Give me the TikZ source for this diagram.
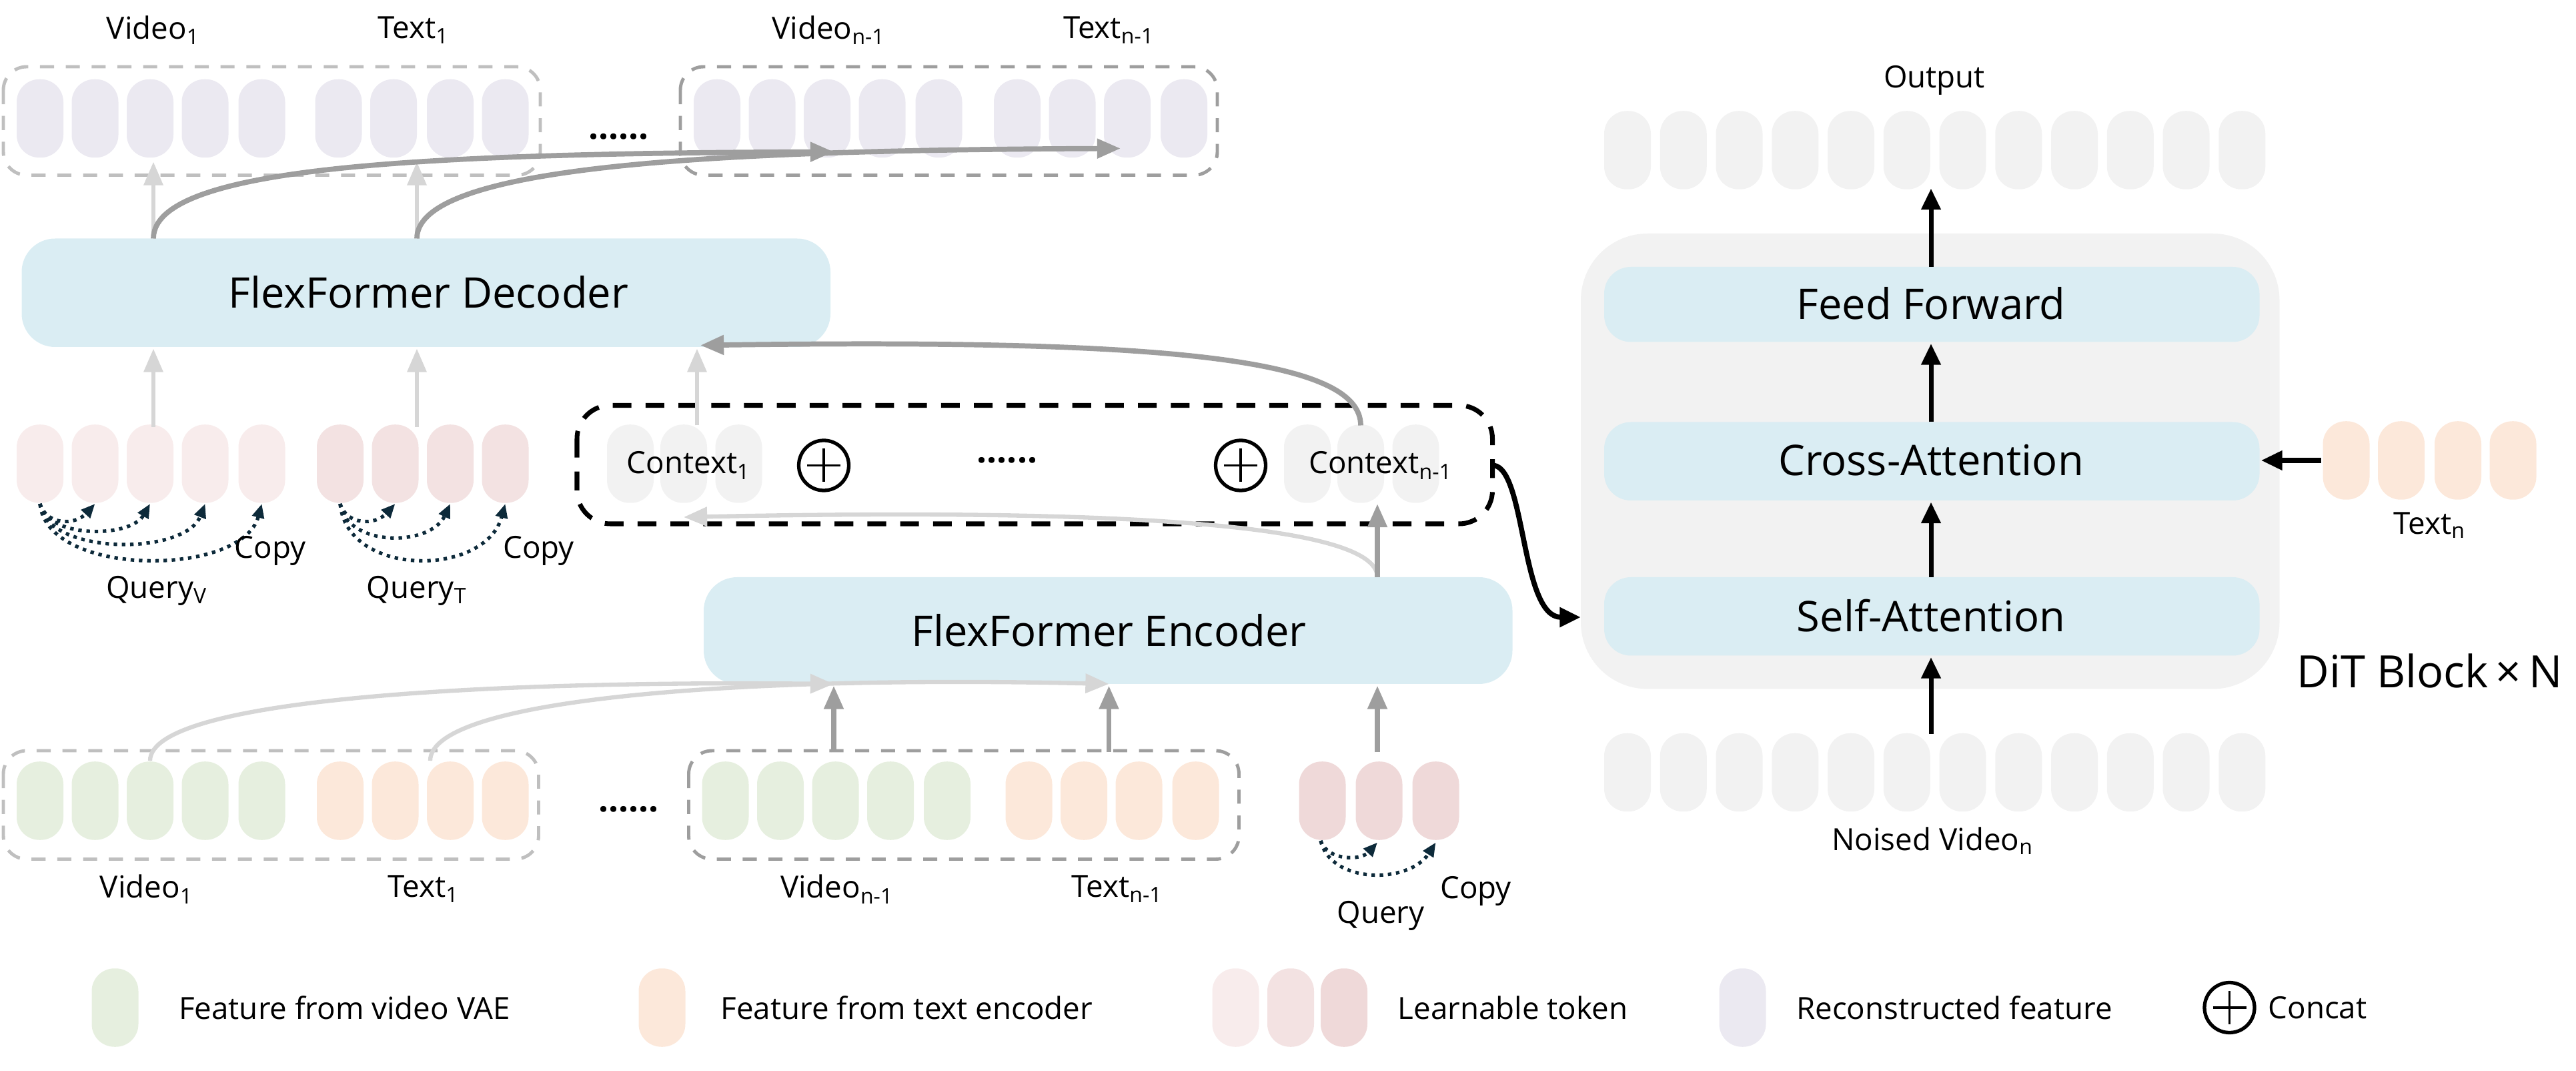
\documentclass[tikz,border=0pt]{standalone}
\usepackage{fontspec}
\setmainfont{Open Sans}
\usetikzlibrary{arrows.meta}
\definecolor{recon}{HTML}{EBE9F1}
\definecolor{vgreen}{HTML}{E6EFDF}
\definecolor{torange}{HTML}{FCE8DA}
\definecolor{lq1}{HTML}{F8ECEC}
\definecolor{lq2}{HTML}{F3E2E2}
\definecolor{lq3}{HTML}{EFD9D9}
\definecolor{pgray}{HTML}{F2F2F2}
\definecolor{bblue}{HTML}{DAEDF3}
\definecolor{navy}{HTML}{0D2A3A}
\newcommand{\sbs}[1]{\textsubscript{#1}}
\tikzset{
 x=0.025cm,y=-0.025cm,
 pics/pill/.style={code={\fill[#1,rounded corners=0.34cm] (-14,-23.5) rectangle (14,23.5);}},
 pics/oplus/.style={code={\draw[line width=1.5pt] (0,0) circle (15); \draw[line width=1pt] (-10,0)--(10,0) (0,-10)--(0,10);}},
 lbl/.style={font=\fontsize{13}{15}\selectfont,inner sep=0pt},
 ttl/.style={font=\fontsize{18}{21}\selectfont,inner sep=0pt},
 lg/.style={-{Triangle[length=10pt,width=8pt]},line width=1.8pt,draw=black!16},
 dg/.style={-{Triangle[length=10pt,width=8pt]},line width=2.2pt,draw=black!38},
 bk/.style={-{Triangle[length=9pt,width=8pt]},line width=2pt,draw=black},
 cp/.style={-{Triangle[length=6pt,width=5pt]},dotted,line width=1.5pt,draw=navy},
 grpbox/.style={dashed,line width=1.4pt,rounded corners=0.35cm,dash pattern=on 6pt off 5pt},
 blk/.style={fill=bblue,rounded corners=0.5cm},
 dots/.style={font=\fontsize{15}{15}\selectfont\bfseries,inner sep=0pt}
}
\begin{document}
\begin{tikzpicture}
\useasboundingbox (0,0) rectangle (1544.8,642);
% ---------- top reconstructed row ----------
\draw[grpbox,draw=black!25] (2,40) rectangle (324,105);
\draw[grpbox,draw=black!38] (408,40) rectangle (730,105);
\foreach \x in {24,57,90,123,157,203,236,270,303,430,463,496,529,563,610,643,676,710}
  \pic at (\x,71) {pill=recon};
\node[lbl] (tv1) at (92,18) {Video\sbs{1}};
\node[lbl] (tt1) at (248,18) {Text\sbs{1}};
\node[lbl] (tvn) at (497,18) {Video\sbs{n-1}};
\node[lbl] (ttn) at (665,18) {Text\sbs{n-1}};
\node[dots] (tdots) at (371,82) {......};
% ---------- decoder ----------
\fill[blk] (13,143) rectangle (498,208);
\node[ttl] (dec) at (257,175) {FlexFormer Decoder};
\coordinate (d1) at (92,143); \coordinate (d2) at (250,143);
\draw[lg] (d1) -- (92,97);
\draw[lg] (d2) -- (250,97);
\draw[dg] (d1) .. controls (92,100) and (250,92) .. (500,91);
\draw[dg] (d2) .. controls (250,100) and (420,90) .. (672,89);
% ---------- learnable queries ----------
\foreach \x in {24,57,90,123,157} \pic at (\x,278) {pill=lq1};
\foreach \x in {204,237,270,303} \pic at (\x,278) {pill=lq2};
\draw[lg] (92,256) -- (92,209);
\draw[lg] (250,256) -- (250,209);
\foreach \x/\d in {57/10,90/16,123/24,157/34}
  \draw[cp] (24,302) .. controls (28,302+1.3*\d) and (\x-12,302+1.3*\d) .. (\x,302);
\foreach \x/\d in {237/10,270/20,303/34}
  \draw[cp] (204,302) .. controls (208,302+1.3*\d) and (\x-12,302+1.3*\d) .. (\x,302);
\node[lbl] (cpv) at (162,330) {Copy};
\node[lbl] (cpt) at (323,330) {Copy};
\node[lbl] (qv) at (94,354) {Query\sbs{V}};
\node[lbl] (qt) at (250,354) {Query\sbs{T}};
% ---------- context box ----------
\foreach \x in {378,410,443,784,816,849} \pic at (\x,278) {pill=pgray};
\draw[grpbox,draw=black,line width=2pt,dash pattern=on 8pt off 6pt,rounded corners=0.5cm] (346,243) rectangle (895,314);
\node[lbl] (c1) at (413,279) {Context\sbs{1}};
\node[lbl] (cn) at (828,279) {Context\sbs{n-1}};
\pic at (494,279) {oplus};
\pic at (744,279) {oplus};
\node[dots] (cdots) at (604,276) {......};
\draw[lg] (418,255) -- (418,209);
\draw[dg] (816,255) .. controls (816,215) and (700,203) .. (420,207);
% ---------- encoder ----------
\fill[blk] (422,346) rectangle (907,410);
\node[ttl] (enc) at (665,378) {FlexFormer Encoder};
\draw[lg] (826,346) .. controls (826,312) and (650,305) .. (410,310);
\draw[dg] (826,346) -- (826,302);
% ---------- bottom input row ----------
\draw[grpbox,draw=black!25] (2,450) rectangle (323,515);
\draw[grpbox,draw=black!38] (413,450) rectangle (743,515);
\foreach \x in {24,57,90,123,157,435,468,501,534,568} \pic at (\x,480) {pill=vgreen};
\foreach \x in {204,237,270,303,617,650,683,717} \pic at (\x,480) {pill=torange};
\foreach \x in {793,827,861} \pic at (\x,480) {pill=lq3};
\node[dots] (dots2) at (377,485) {......};
\draw[lg] (90,456) .. controls (90,418) and (300,408) .. (500,410);
\draw[lg] (258,456) .. controls (258,418) and (450,405) .. (665,410);
\draw[dg] (500,451) -- (500,411);
\draw[dg] (665,451) -- (665,411);
\draw[dg] (826,451) -- (826,411);
\draw[cp] (792,504) .. controls (796,516) and (816,516) .. (826,505);
\draw[cp] (792,504) .. controls (798,530) and (845,530) .. (861,505);
\node[lbl] (bv1) at (88,533) {Video\sbs{1}};
\node[lbl] (bt1) at (254,533) {Text\sbs{1}};
\node[lbl] (bvn) at (502,533) {Video\sbs{n-1}};
\node[lbl] (btn) at (670,533) {Text\sbs{n-1}};
\node[lbl] (bq) at (828,549) {Query};
\node[lbl] (bc) at (885,534) {Copy};
% ---------- DiT block ----------
\fill[pgray,rounded corners=1cm] (948,140) rectangle (1367,413);
\fill[blk,rounded corners=0.4cm] (962,160) rectangle (1355,205);
\fill[blk,rounded corners=0.4cm] (962,253) rectangle (1355,300);
\fill[blk,rounded corners=0.4cm] (962,346) rectangle (1355,393);
\node[ttl] (ff) at (1158,182) {Feed Forward};
\node[ttl] (ca) at (1158,276) {Cross-Attention};
\node[ttl] (sa) at (1158,369) {Self-Attention};
\foreach \k in {0,...,11} {
  \pic at (976+33.5*\k,90) {pill=pgray};
  \pic at (976+33.5*\k,463) {pill=pgray};
}
\node[lbl] (out) at (1160,48) {Output};
\node[lbl] (nv) at (1159,504) {Noised Video\sbs{n}};
\draw[bk] (1158,440) -- (1158,394);
\draw[bk] (1158,346) -- (1158,301);
\draw[bk] (1158,253) -- (1158,206);
\draw[bk] (1158,160) -- (1158,113);
\foreach \x in {1407,1440,1474,1507} \pic at (\x,276) {pill=torange};
\node[lbl] (tn) at (1457,315) {Text\sbs{n}};
\draw[bk] (1392,276) -- (1356,276);
\node[font=\fontsize{19}{22}\selectfont,inner sep=0pt] (dit) at (1457,402) {DiT Block\,×\,N};
\draw[bk,line width=2.2pt] (896,279) .. controls (915,282) and (912,370) .. (948,370);
% ---------- legend ----------
\pic at (69,604) {pill=vgreen};
\node[lbl,anchor=west] (l1) at (107,604) {Feature from video VAE};
\pic at (397,604) {pill=torange};
\node[lbl,anchor=west] (l2) at (432,604) {Feature from text encoder};
\pic at (741,604) {pill=lq1};
\pic at (774,604) {pill=lq2};
\pic at (806,604) {pill=lq3};
\node[lbl,anchor=west] (l3) at (838,604) {Learnable token};
\pic at (1045,604) {pill=recon};
\node[lbl,anchor=west] (l4) at (1077,604) {Reconstructed feature};
\pic at (1337,604) {oplus};
\node[lbl,anchor=west] (l5) at (1360,604) {Concat};
\end{tikzpicture}
\end{document}
